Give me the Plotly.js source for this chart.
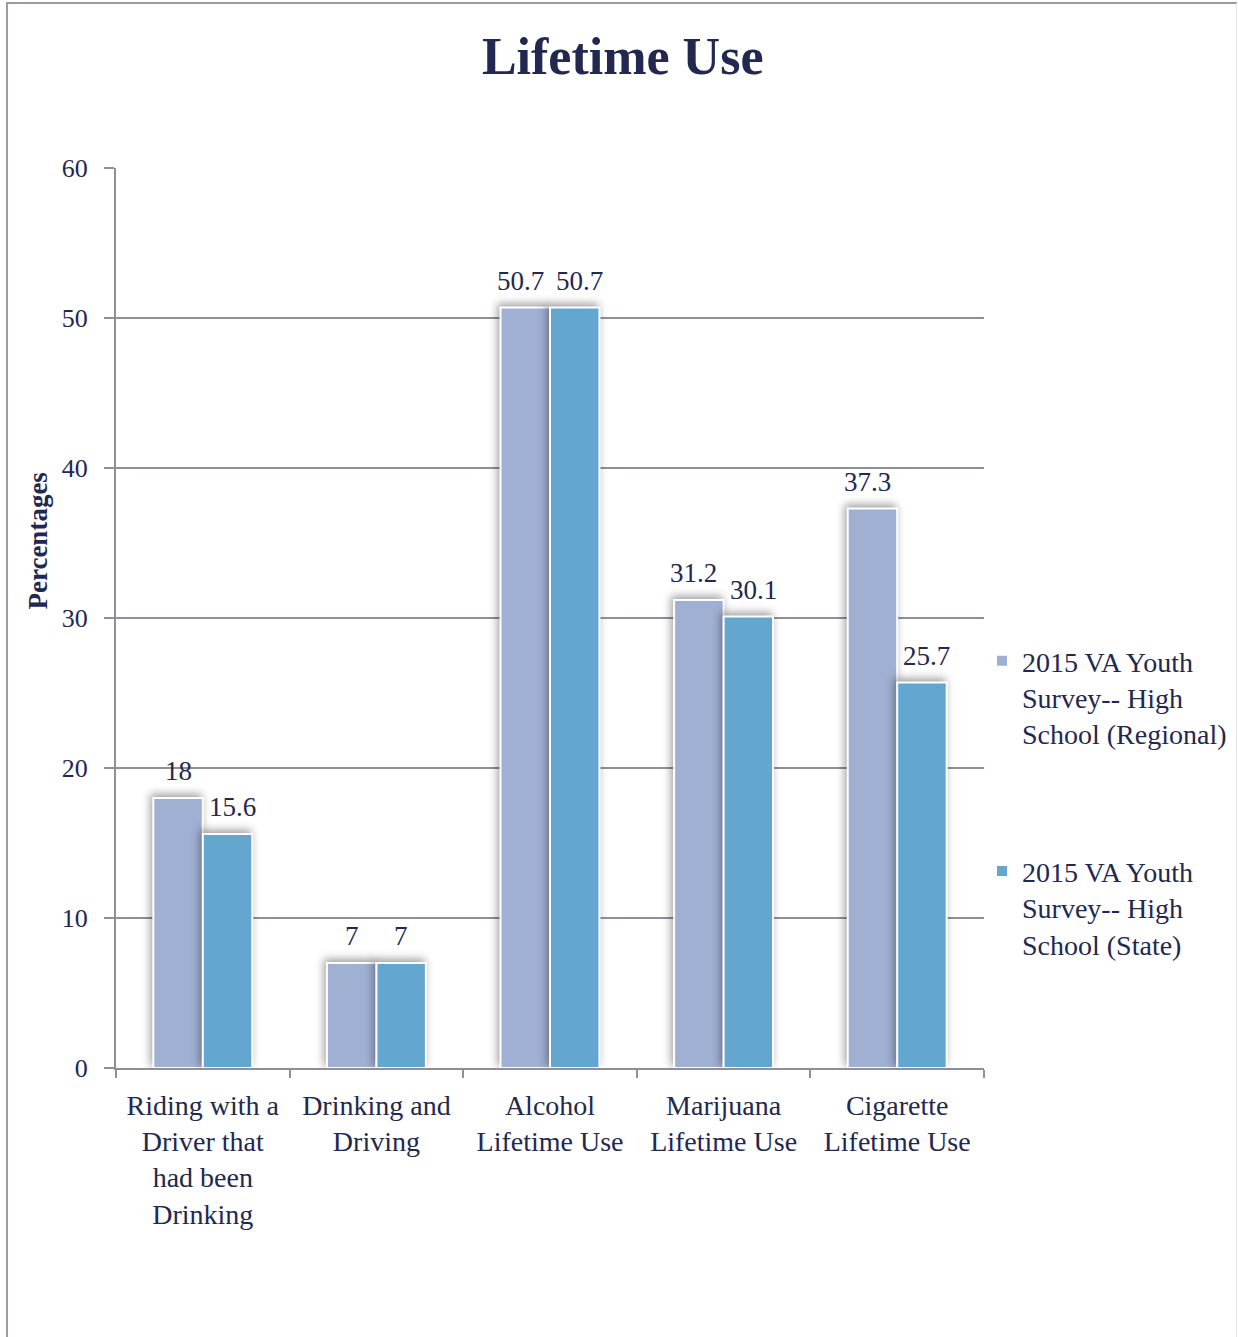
<!DOCTYPE html>
<html>
<head>
<meta charset="utf-8">
<script src="https://cdn.plot.ly/plotly-3.0.1.min.js"></script>
<style>
  html, body { margin: 0; padding: 0; background: #fff; }
  #frame {
    position: absolute; left: 6px; top: 2px; width: 1231px; height: 1340px;
    border-left: 2px solid #9b9ba6; border-top: 2px solid #9b9ba6; border-right: 1px solid #e6e6ea;
    box-sizing: border-box; pointer-events: none; z-index: 5;
  }
  #chart { position: absolute; left: 0; top: 0; width: 1238px; height: 1337px; }
  .barlayer .point path { filter: drop-shadow(-2px -3px 4px rgba(0,0,0,0.38)); }
</style>
</head>
<body>
<div id="chart"></div>
<div id="frame"></div>
<script>
// Lifetime use categories and survey results (percent)
const categories = [
  "Riding with a<br>Driver that<br>had been<br>Drinking",
  "Drinking and<br>Driving",
  "Alcohol<br>Lifetime Use",
  "Marijuana<br>Lifetime Use",
  "Cigarette<br>Lifetime Use"
];
const regionalValues = [18, 7, 50.7, 31.2, 37.3];
const stateValues = [15.6, 7, 50.7, 30.1, 25.7];
const seriesNames = [
  "2015 VA Youth<br>Survey-- High<br>School (Regional)",
  "2015 VA Youth<br>Survey-- High<br>School (State)"
];
const yTicks = [0, 10, 20, 30, 40, 50, 60];

const FONT = "'Liberation Serif', 'Palatino Linotype', 'Book Antiqua', Palatino, serif";
const INK = "#22284f";
const GRID = "#8f8f9b";
const COLORS = ["#a0b0d2", "#63a7d0"];

function barTrace(name, values, color, group) {
  return {
    type: "bar",
    name: name,
    x: categories,
    y: values,
    legendgroup: group,
    marker: { color: color, line: { color: "#ffffff", width: 2 } },
    hoverinfo: "skip"
  };
}

const data = [
  barTrace(seriesNames[0], regionalValues, COLORS[0], "g1"),
  barTrace(seriesNames[1], stateValues, COLORS[1], "g2")
];

// Value labels above each bar; left bar of the pair sits left of the category
// centre, right bar to the right. Wider labels get nudged apart a little.
const BAR_HALF = 24.7;
const annotations = [];
[regionalValues, stateValues].forEach((vals, s) => {
  vals.forEach((v, i) => {
    const label = String(v);
    const spread = label.length > 2 ? 5 : 0;
    annotations.push({
      x: categories[i], y: v, xref: "x", yref: "y",
      text: label, showarrow: false,
      xanchor: "center", yanchor: "middle",
      xshift: (s === 0 ? -1 : 1) * (BAR_HALF + spread),
      yshift: 27,
      font: { family: FONT, size: 27, color: INK }
    });
  });
});

// rotated axis title
annotations.push({
  text: "<b>Percentages</b>",
  xref: "paper", yref: "paper",
  x: -0.0899, y: 0.586,
  xanchor: "center", yanchor: "middle",
  textangle: -90, showarrow: false,
  font: { family: FONT, size: 27, color: INK }
});

const layout = {
  width: 1238,
  height: 1337,
  paper_bgcolor: "#ffffff",
  plot_bgcolor: "#ffffff",
  margin: { l: 116, r: 254, t: 168, b: 269, autoexpand: false },
  font: { family: FONT, color: INK, size: 28 },
  title: {
    text: "<b>Lifetime Use</b>",
    font: { family: FONT, size: 52, color: INK },
    x: 0.503, xref: "container", xanchor: "center",
    y: 0.958, yref: "container", yanchor: "middle"
  },
  barmode: "group",
  bargap: 0.43,
  bargroupgap: 0,
  showlegend: true,
  legend: {
    x: 0.9977, xanchor: "left",
    y: 0.48, yanchor: "top",
    xref: "paper",
    font: { family: FONT, size: 28, color: INK },
    tracegroupgap: 98,
    itemwidth: 30,
    valign: "top",
    bgcolor: "rgba(0,0,0,0)"
  },
  annotations: annotations,
  xaxis: {
    type: "category",
    showgrid: false,
    showline: true,
    linecolor: GRID,
    linewidth: 2,
    tickson: "boundaries",
    ticks: "outside",
    ticklen: 8,
    tickwidth: 2,
    tickcolor: GRID,
    ticklabelstandoff: 11,
    tickfont: { family: FONT, size: 28, color: INK },
    zeroline: false,
    fixedrange: true
  },
  yaxis: {
    range: [0, 60],
    tickvals: yTicks,
    ticktext: yTicks.map(String),
    showgrid: true,
    gridcolor: GRID,
    gridwidth: 2,
    showline: true,
    linecolor: GRID,
    linewidth: 2,
    ticks: "outside",
    ticklen: 10,
    tickwidth: 2,
    tickcolor: GRID,
    ticklabelstandoff: 11,
    tickfont: { family: FONT, size: 26, color: INK },
    zeroline: false,
    fixedrange: true
  }
};

Plotly.newPlot("chart", data, layout, { displayModeBar: false, staticPlot: true });
</script>
</body>
</html>
